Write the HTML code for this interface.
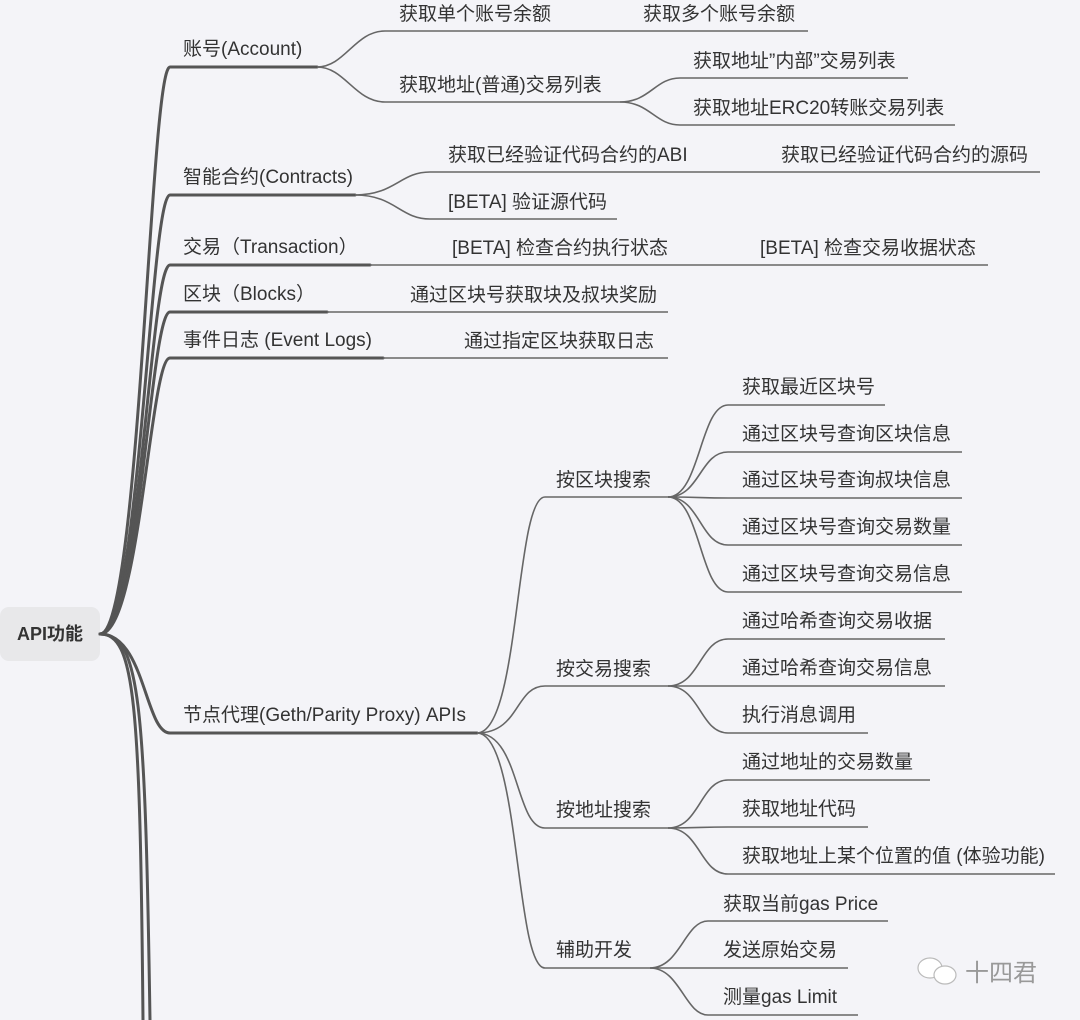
<!DOCTYPE html>
<html><head><meta charset="utf-8"><style>
body{margin:0;background:#f4f4f8;}
svg{display:block}
text{font-family:"Liberation Sans","Noto Sans CJK SC",sans-serif;font-size:19px;fill:#333}
</style></head><body>
<svg width="1080" height="1020" viewBox="0 0 1080 1020">
<rect width="1080" height="1020" fill="#f4f4f8"/>
<rect x="0" y="607" width="100" height="54" rx="9" fill="#e8e8ea"/>
<text x="17" y="640" style="font-weight:bold;font-size:18px">API功能</text>
<g fill="none" stroke="#555" stroke-width="3" stroke-linecap="round">
<path d="M100,634 C140,634 150,67 170,67 L317,67"/>
<path d="M100,634 C140,634 150,195 170,195 L355,195"/>
<path d="M100,634 C140,634 150,265 170,265 L370,265"/>
<path d="M100,634 C140,634 150,312 170,312 L327,312"/>
<path d="M100,634 C140,634 150,358 170,358 L383,358"/>
<path d="M100,634 C145,634 145,733 170,733 L477,733"/>
<path d="M100,634 C135,634 140,700 143,1020"/>
<path d="M100,634 C140,634 145,700 150,1020"/>
</g>
<g fill="none" stroke="#666" stroke-width="1.6">
<path d="M317,67 C345,67 355,31 385,31 L808,31"/>
<path d="M317,67 C345,67 355,102 385,102 L620,102"/>
<path d="M620,102 C650,102 655,78 680,78 L908,78"/>
<path d="M620,102 C650,102 655,125 680,125 L955,125"/>
<path d="M355,195 C395,195 400,172 430,172 L1040,172"/>
<path d="M355,195 C395,195 400,219 430,219 L617,219"/>
<path d="M370,265 L988,265"/>
<path d="M327,312 L668,312"/>
<path d="M383,358 L668,358"/>
<path d="M477,733 C520,733 515,497 545,497 L668,497"/>
<path d="M477,733 C520,733 515,686 545,686 L668,686"/>
<path d="M477,733 C520,733 515,828 545,828 L668,828"/>
<path d="M477,733 C520,733 515,968 545,968 L650,968"/>
<path d="M668,497 C700,497 700,405 728,405 L885,405"/>
<path d="M668,497 C700,497 700,452 728,452 L962,452"/>
<path d="M668,497 C700,497 700,498 728,498 L962,498"/>
<path d="M668,497 C700,497 700,545 728,545 L962,545"/>
<path d="M668,497 C700,497 700,592 728,592 L962,592"/>
<path d="M668,686 C700,686 700,639 728,639 L945,639"/>
<path d="M668,686 L945,686"/>
<path d="M668,686 C700,686 700,733 728,733 L868,733"/>
<path d="M668,828 C700,828 700,780 728,780 L930,780"/>
<path d="M668,828 C700,828 700,827 728,827 L868,827"/>
<path d="M668,828 C700,828 700,874 728,874 L1055,874"/>
<path d="M650,968 C680,968 685,921 708,921 L888,921"/>
<path d="M650,968 L848,968"/>
<path d="M650,968 C680,968 685,1015 708,1015 L858,1015"/>
</g>
<text x="183" y="55">账号(Account)</text>
<text x="183" y="183">智能合约(Contracts)</text>
<text x="183" y="253">交易（Transaction）</text>
<text x="183" y="300">区块（Blocks）</text>
<text x="183" y="346">事件日志 (Event Logs)</text>
<text x="183" y="721">节点代理(Geth/Parity Proxy) APIs</text>
<text x="399" y="20">获取单个账号余额</text>
<text x="643" y="20">获取多个账号余额</text>
<text x="399" y="91">获取地址(普通)交易列表</text>
<text x="693" y="67">获取地址”内部”交易列表</text>
<text x="693" y="114">获取地址ERC20转账交易列表</text>
<text x="448" y="161">获取已经验证代码合约的ABI</text>
<text x="781" y="161">获取已经验证代码合约的源码</text>
<text x="448" y="208">[BETA] 验证源代码</text>
<text x="452" y="254">[BETA] 检查合约执行状态</text>
<text x="760" y="254">[BETA] 检查交易收据状态</text>
<text x="410" y="301">通过区块号获取块及叔块奖励</text>
<text x="464" y="347">通过指定区块获取日志</text>
<text x="556" y="486">按区块搜索</text>
<text x="556" y="675">按交易搜索</text>
<text x="556" y="816">按地址搜索</text>
<text x="556" y="956">辅助开发</text>
<text x="742" y="393">获取最近区块号</text>
<text x="742" y="440">通过区块号查询区块信息</text>
<text x="742" y="486">通过区块号查询叔块信息</text>
<text x="742" y="533">通过区块号查询交易数量</text>
<text x="742" y="580">通过区块号查询交易信息</text>
<text x="742" y="627">通过哈希查询交易收据</text>
<text x="742" y="674">通过哈希查询交易信息</text>
<text x="742" y="721">执行消息调用</text>
<text x="742" y="768">通过地址的交易数量</text>
<text x="742" y="815">获取地址代码</text>
<text x="742" y="862">获取地址上某个位置的值 (体验功能)</text>
<text x="723" y="910">获取当前gas Price</text>
<text x="723" y="956">发送原始交易</text>
<text x="723" y="1003">测量gas Limit</text>
<g fill="#fff" stroke="#bbb" stroke-width="1.2">
<ellipse cx="930" cy="968" rx="12" ry="10"/>
<ellipse cx="945" cy="975" rx="11" ry="9"/>
</g>
<text x="965" y="981" style="font-size:24px;fill:#999">十四君</text>
</svg>
</body></html>
